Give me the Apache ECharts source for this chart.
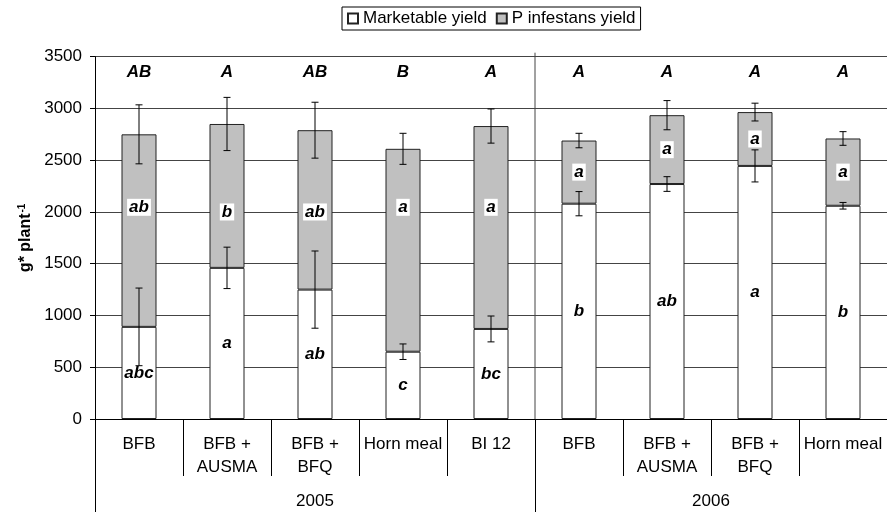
<!DOCTYPE html>
<html>
<head>
<meta charset="utf-8">
<script src="https://cdn.jsdelivr.net/npm/echarts@6/dist/echarts.min.js"></script>
<style>
  html, body { margin: 0; padding: 0; background: #fff; }
  #chart { width: 887px; height: 513px; }
</style>
</head>
<body>
<div id="chart"></div>
<script>
// Treatments, grouped by year
const categories = ['BFB', 'BFB +\nAUSMA', 'BFB +\nBFQ', 'Horn meal', 'BI 12',
                    'BFB', 'BFB +\nAUSMA', 'BFB +\nBFQ', 'Horn meal'];
const years = ['2005', '2006'];
const yearSpans = [5, 4];

// Yields (g per plant)
const marketable = [890, 1460, 1250, 650, 870, 2080, 2270, 2445, 2060];
const pInfestans = [1860, 1390, 1540, 1960, 1960, 610, 665, 520, 650];
// Error bars: marketable part and total yield
const marketableErr = [375, 200, 373, 75, 125, 117, 71, 155, 32];
const totalErr = [285, 257, 270, 150, 165, 70, 141, 86, 66];

// Significance letters
const marketLetters = ['abc', 'a', 'ab', 'c', 'bc', 'b', 'ab', 'a', 'b'];
const pLetters = ['ab', 'b', 'ab', 'a', 'a', 'a', 'a', 'a', 'a'];
const totalLetters = ['AB', 'A', 'AB', 'B', 'A', 'A', 'A', 'A', 'A'];
// Where the P infestans letters sit on the value scale
const pLetterAt = [2045, 2000, 2000, 2045, 2045, 2385, 2602, 2705, 2385];
const totalLetterAt = 3350;

const yTicks = { min: 0, max: 3500, step: 500 };

// Year boundaries / centres along the category index scale
const yearEdges = [0];
yearSpans.forEach(function (n) { yearEdges.push(yearEdges[yearEdges.length - 1] + n); });
const yearCentres = years.map(function (_, i) { return (yearEdges[i] + yearEdges[i + 1]) / 2; });

const FONT = '"Liberation Sans", Arial, sans-serif';
const letterStyle = {
  fontFamily: FONT, fontSize: 17, fontWeight: 'bold', fontStyle: 'italic',
  color: '#000', opacity: 1, textBorderWidth: 0, textBorderColor: 'transparent'
};

const chart = echarts.init(document.getElementById('chart'), null, { renderer: 'canvas' });

const errData = [];
categories.forEach(function (_, i) {
  errData.push([i, marketable[i], marketableErr[i]]);
  errData.push([i, marketable[i] + pInfestans[i], totalErr[i]]);
});

chart.setOption({
  animation: false,
  textStyle: { fontFamily: FONT },
  legend: {
    data: ['Marketable yield', 'P infestans yield'],
    left: 342, top: 7,
    padding: [3, 5],
    itemGap: 9, itemWidth: 10, itemHeight: 10,
    borderColor: '#000', borderWidth: 1,
    icon: 'rect',
    textStyle: { fontSize: 17, color: '#000', fontFamily: FONT }
  },
  grid: { left: 95, top: 56.7, width: 793, height: 362.6 },
  xAxis: [
    {
      type: 'category',
      data: categories,
      position: 'bottom',
      axisLine: { lineStyle: { color: '#000', width: 1 } },
      axisTick: { show: true, interval: 0, length: 57, lineStyle: { color: '#000' } },
      axisLabel: { interval: 0, margin: 14, fontSize: 17, lineHeight: 23, color: '#000', fontFamily: FONT },
      splitLine: { show: false }
    },
    {
      type: 'value',
      min: 0, max: yearEdges[yearEdges.length - 1],
      position: 'bottom',
      axisLine: { show: false },
      axisTick: { show: true, customValues: yearEdges, length: 93, lineStyle: { color: '#000' } },
      axisLabel: {
        customValues: yearCentres, margin: 71, fontSize: 17, lineHeight: 23, color: '#000', fontFamily: FONT,
        formatter: function (v) {
          const k = yearCentres.indexOf(v);
          return k >= 0 ? years[k] : '';
        }
      },
      splitLine: { show: false }
    }
  ],
  yAxis: {
    type: 'value',
    min: yTicks.min, max: yTicks.max, interval: yTicks.step,
    axisLine: { show: true, lineStyle: { color: '#000' } },
    axisTick: { show: true, length: 5, lineStyle: { color: '#000' } },
    axisLabel: {
      margin: 13, fontSize: 17, color: '#000', fontFamily: FONT,
      formatter: function (v) { return String(v); }
    },
    splitLine: { show: true, lineStyle: { color: '#444', width: 1 } },
    name: '{b|g* plant}{s|-1}',
    nameLocation: 'middle',
    nameRotate: 90,
    nameGap: 47,
    nameTextStyle: {
      rich: {
        b: { fontFamily: FONT, fontSize: 16, fontWeight: 'bold', color: '#000' },
        s: { fontFamily: FONT, fontSize: 10, fontWeight: 'bold', color: '#000', verticalAlign: 'top', padding: [0, 0, 0, 1] }
      }
    }
  },
  series: [
    {
      name: 'Marketable yield',
      type: 'bar',
      stack: 'yield',
      barWidth: 35,
      data: marketable,
      itemStyle: { color: '#ffffff', borderColor: '#222', borderWidth: 1 },
      label: {
        show: true, position: 'inside',
        formatter: function (p) { return marketLetters[p.dataIndex]; },
        ...letterStyle
      },
      z: 2
    },
    {
      name: 'P infestans yield',
      type: 'bar',
      stack: 'yield',
      barWidth: 35,
      data: pInfestans,
      itemStyle: { color: '#c0c0c0', borderColor: '#222', borderWidth: 1 },
      z: 2
    },
    {
      // I-beam error bars
      type: 'custom',
      data: errData,
      z: 5,
      renderItem: function (params, api) {
        const x = api.value(0), c = api.value(1), e = api.value(2);
        const top = api.coord([x, c + e]);
        const bot = api.coord([x, c - e]);
        const hw = 3.5;
        const st = { stroke: '#000', lineWidth: 1 };
        return {
          type: 'group',
          children: [
            { type: 'line', shape: { x1: top[0], y1: top[1], x2: bot[0], y2: bot[1] }, style: st },
            { type: 'line', shape: { x1: top[0] - hw, y1: top[1], x2: top[0] + hw, y2: top[1] }, style: st },
            { type: 'line', shape: { x1: bot[0] - hw, y1: bot[1], x2: bot[0] + hw, y2: bot[1] }, style: st }
          ]
        };
      }
    },
    {
      // separator between the two years inside the plot
      type: 'custom',
      xAxisIndex: 1,
      data: yearEdges.slice(1, -1).map(function (v) { return [v]; }),
      z: 1,
      renderItem: function (params, api) {
        const x = api.value(0);
        const t = api.coord([x, yTicks.max]);
        const b = api.coord([x, yTicks.min]);
        return { type: 'line', shape: { x1: t[0], y1: t[1] - 4, x2: b[0], y2: b[1] }, style: { stroke: '#444', lineWidth: 1 } };
      }
    },
    {
      // P infestans letters with white boxes
      type: 'scatter',
      data: pLetterAt.map(function (v, i) { return [i, v]; }),
      symbolSize: 1,
      itemStyle: { color: 'transparent' },
      z: 6,
      label: {
        show: true, position: 'inside',
        formatter: function (p) { return pLetters[p.dataIndex]; },
        backgroundColor: '#fff', padding: [0, 2, 0, 2], lineHeight: 17,
        ...letterStyle
      }
    },
    {
      // letters for total yield
      type: 'scatter',
      data: totalLetters.map(function (_, i) { return [i, totalLetterAt]; }),
      symbolSize: 1,
      itemStyle: { color: 'transparent' },
      z: 6,
      label: {
        show: true, position: 'inside',
        formatter: function (p) { return totalLetters[p.dataIndex]; },
        ...letterStyle
      }
    }
  ]
});
</script>
</body>
</html>
